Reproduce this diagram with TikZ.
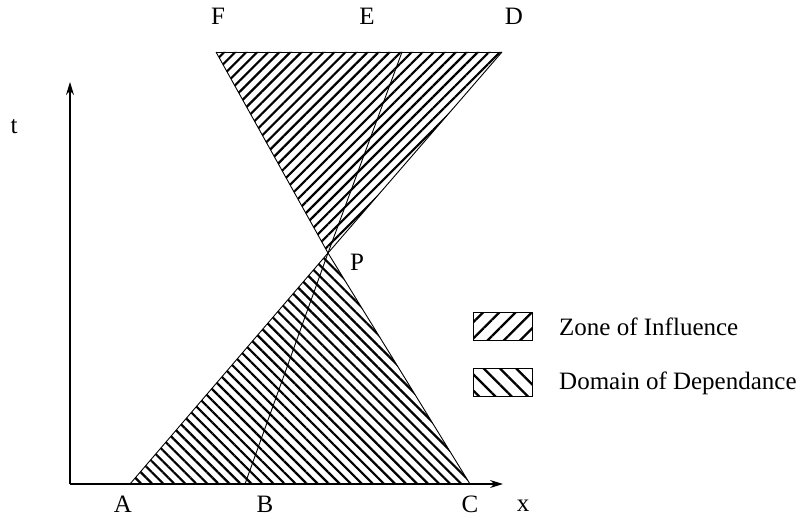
\documentclass[tikz,border=0pt]{standalone}
\usepackage{fontspec}
\setmainfont{Liberation Serif}
\usetikzlibrary{patterns.meta,arrows.meta}
\tikzset{
  lbl/.style={font=\fontsize{25}{30}\selectfont, inner sep=0pt},
  outline/.style={line width=0.9pt, black},
  zonehatch/.style={pattern={Lines[angle=45,distance=7.8pt,line width=2.2pt]}},
  dephatch/.style={pattern={Lines[angle=-45,distance=7.8pt,line width=2.2pt]}},
  zonekey/.style={pattern={Lines[angle=45,distance=11.5pt,line width=2.2pt]}, draw, line width=1pt},
  depkey/.style={pattern={Lines[angle=-45,distance=11.5pt,line width=2.2pt]}, draw, line width=1pt},
  axisline/.style={line width=1.2pt, -{Stealth[length=13pt,width=8pt]}}
}
\begin{document}
\begin{tikzpicture}[x=1pt,y=-1pt]
\useasboundingbox (0,0) rectangle (806,519);
% points
\coordinate (O) at (70,484);
\coordinate (Xend) at (503,484);
\coordinate (Tend) at (70,82);
\coordinate (A) at (130,484);
\coordinate (B) at (245,484);
\coordinate (C) at (470,484);
\coordinate (P) at (328,253);
\coordinate (F) at (216,52);
\coordinate (E) at (402,52);
\coordinate (D) at (502,52);
% hatched zones
\fill[zonehatch] (F) -- (D) -- (P) -- cycle;
\fill[dephatch] (A) -- (P) -- (C) -- cycle;
% outlines
\draw[outline] (F) -- (D);
\draw[outline] (F) -- (P) -- (D);
\draw[outline] (A) -- (P) -- (C);
\draw[outline] (B) -- (P) -- (E);
% axes
\draw[axisline] (O) -- (Xend);
\draw[axisline] (O) -- (Tend);
% labels
\node[lbl] (lA) at (123,504) {A};
\node[lbl] (lB) at (265,504) {B};
\node[lbl] (lC) at (470,504) {C};
\node[lbl] (lx) at (523,506) {x};
\node[lbl] (lt) at (14,127) {t};
\node[lbl] (lP) at (357,262) {P};
\node[lbl] (lF) at (218,16) {F};
\node[lbl] (lE) at (367,16) {E};
\node[lbl] (lD) at (514,16) {D};
% legend
\path[zonekey] (473,312) rectangle (532,340);
\path[depkey] (473,368) rectangle (532,396);
\node[lbl, anchor=west] (kz) at (559,327) {Zone of Influence};
\node[lbl, anchor=west] (kd) at (559,383) {Domain of Dependance};
\end{tikzpicture}
\end{document}
